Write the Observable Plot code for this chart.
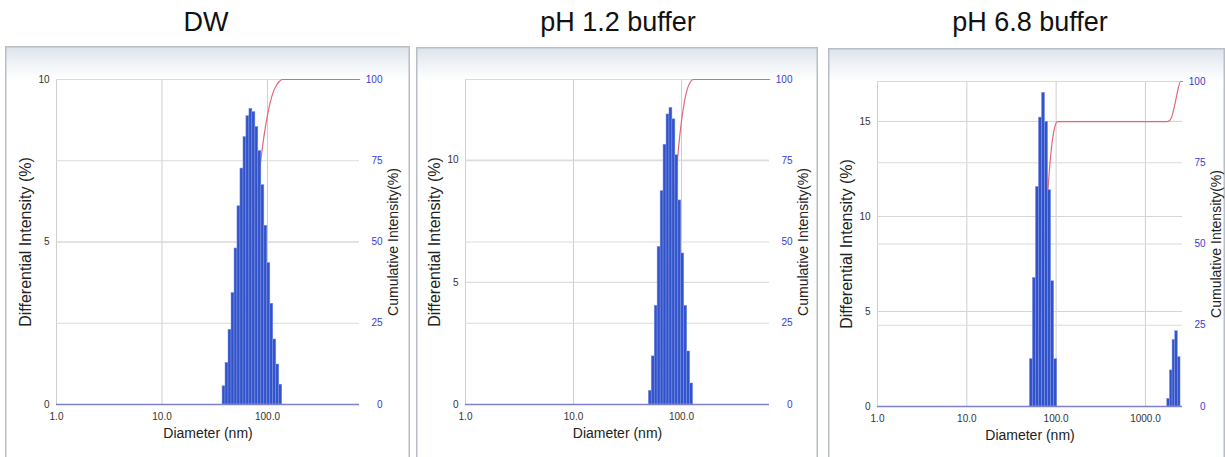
<!DOCTYPE html>
<html><head><meta charset="utf-8">
<script src="https://cdn.jsdelivr.net/npm/d3@7"></script>
<script src="https://cdn.jsdelivr.net/npm/@observablehq/plot@0.6"></script>
<style>
body{margin:0;background:#fff;font-family:Arial,"Liberation Sans",sans-serif;}
#root{position:relative;width:1225px;height:457px;overflow:hidden;background:#fff;}
.title{position:absolute;top:7px;width:300px;font-size:27px;color:#111;text-align:center;white-space:nowrap;}
.frame{position:absolute;box-sizing:border-box;background:linear-gradient(#dce3eb 0px,#eef2f6 16px,#fff 34px);box-shadow:inset 0 0 0 1.5px #b9bec6;overflow:hidden;}
.frame svg{position:absolute;left:0;top:0;}
</style></head><body><div id="root"></div>
<script>
// ---- titles ----
const titles = ["DW", "pH 1.2 buffer", "pH 6.8 buffer"];

// ---- DW: bin edges (nm) and differential intensity (%) ----
const dwEdges = [37.5, 40.0, 42.7, 45.6, 48.7, 51.9, 55.4, 59.2, 63.1, 67.4, 71.9,
                 76.8, 81.9, 87.5, 93.4, 99.7, 106.4, 113.5, 121.2, 129.4, 138.0];
const dwValues = [0.56, 1.28, 2.3, 3.43, 4.8, 6.1, 7.26, 8.23, 8.87, 9.1,
                  9.0, 8.54, 7.8, 6.75, 5.5, 4.35, 3.1, 2.0, 1.23, 0.61];

// ---- pH 1.2 buffer ----
const ph12Edges = [49.8, 53.0, 56.5, 60.1, 64.1, 68.2, 72.7, 77.4, 82.4, 87.8,
                   93.5, 99.6, 106.1, 113.0, 120.4, 128.2];
const ph12Values = [0.56, 1.97, 4.04, 6.45, 8.73, 10.63, 11.87, 12.14, 11.67, 10.2,
                    8.35, 6.18, 4.04, 2.17, 0.86];

// ---- pH 6.8 buffer: two populations ----
const ph68EdgesA = [50.8, 54.9, 59.4, 64.2, 69.5, 75.2, 81.3, 87.9, 95.1, 102.9];
const ph68ValuesA = [2.49, 6.76, 11.55, 15.2, 16.5, 14.98, 11.38, 6.59, 2.49];
const ph68EdgesB = [1754, 1879, 2012, 2154, 2308, 2472];
const ph68ValuesB = [0.4, 1.9, 3.5, 3.96, 2.6];

// ---- axis ticks ----
const xTicksA = [1, 10, 100];
const xTicksB = [1, 10, 100, 1000];
const dwYTicks = [0, 5, 10];
const ph12YTicks = [0, 5, 10];
const ph68YTicks = [0, 5, 10, 15];
const cumTicks = [0, 25, 50, 75, 100];

const xLabel = "Diameter (nm)";
const yLabel = "Differential Intensity (%)";
const y2Label = "Cumulative Intensity(%)";

const panels = [
  {title: titles[0], tx: 206, left: 5, top: 46, w: 405, h: 411, mL: 51, mR: 51, mT: 33, mB: 53,
   xMax: 745, yMax: 10, xTicks: xTicksA, yTicks: dwYTicks,
   groups: [{edges: dwEdges, values: dwValues}]},
  {title: titles[1], tx: 618, left: 416, top: 47, w: 402, h: 410, mL: 49, mR: 49, mT: 32, mB: 53,
   xMax: 653, yMax: 13.3, xTicks: xTicksA, yTicks: ph12YTicks,
   groups: [{edges: ph12Edges, values: ph12Values}]},
  {title: titles[2], tx: 1030, left: 828, top: 48, w: 397, h: 409, mL: 49, mR: 43, mT: 33, mB: 51,
   xMax: 2600, yMax: 17.1, xTicks: xTicksB, yTicks: ph68YTicks,
   groups: [{edges: ph68EdgesA, values: ph68ValuesA}, {edges: ph68EdgesB, values: ph68ValuesB}]}
];

const root = document.getElementById("root");

for (const p of panels) {
  const t = document.createElement("div");
  t.className = "title";
  t.style.left = (p.tx - 150) + "px";
  t.textContent = p.title;
  root.appendChild(t);

  const f = document.createElement("div");
  f.className = "frame";
  Object.assign(f.style, {left: p.left + "px", top: p.top + "px", width: p.w + "px", height: (p.h + 6) + "px"});
  root.appendChild(f);

  // bars
  const bars = [];
  for (const g of p.groups) g.values.forEach((v, i) => bars.push({x1: g.edges[i], x2: g.edges[i + 1], y: v}));
  // cumulative curve (running sum of the bars, normalised to 100)
  const total = d3.sum(bars, d => d.y);
  const cum = [{x: 1, c: 0}];
  let run = 0;
  for (const g of p.groups) {
    cum.push({x: g.edges[0], c: run / total * 100});
    g.values.forEach((v, i) => { run += v; cum.push({x: g.edges[i + 1], c: run / total * 100}); });
  }
  cum.push({x: p.xMax, c: 100});
  const k = p.yMax / 100;
  const cumPos = cumTicks.map(v => v * k);

  const chart = Plot.plot({
    width: p.w, height: p.h,
    marginLeft: p.mL, marginRight: p.mR, marginTop: p.mT, marginBottom: p.mB,
    style: {fontFamily: "Arial, 'Liberation Sans', sans-serif", fontSize: "10px", background: "transparent", overflow: "visible", color: "#333"},
    x: {type: "log", domain: [1, p.xMax]},
    y: {domain: [0, p.yMax]},
    marks: [
      Plot.gridX(p.xTicks, {stroke: "#cfcfcf", strokeOpacity: 1}),
      Plot.gridY(p.yTicks, {stroke: "#d4d4d4", strokeOpacity: 1}),
      Plot.gridY(cumPos, {stroke: "#dadada", strokeOpacity: 1}),
      Plot.line(cum, {x: "x", y: d => d.c * k, stroke: "#e0687a", strokeWidth: 1.2, curve: "monotone-x"}),
      Plot.rectY(bars, {x1: "x1", x2: "x2", y: "y", fill: "#3152c9", stroke: "#8098e8", strokeWidth: 0.5}),
      Plot.ruleY([0], {stroke: "#7d80cc", strokeWidth: 1.5}),
      Plot.axisX(p.xTicks, {tickSize: 0, tickPadding: 8, tickFormat: d3.format(".1f"), fontSize: 10, fill: "#333", label: null}),
      Plot.axisY(p.yTicks, {anchor: "left", tickSize: 0, tickPadding: 7, fontSize: 10, fill: "#333", label: null}),
      Plot.axisY(cumPos, {anchor: "right", tickSize: 0, tickPadding: 23, textAnchor: "end",
        tickFormat: d => String(Math.round(d / k)), fontSize: 10, fill: "#3a3ad8", label: null}),
      Plot.text([xLabel], {frameAnchor: "bottom", dy: 33, fontSize: 14, fill: "#222"}),
      Plot.text([yLabel], {frameAnchor: "left", dx: -31, rotate: -90, textAnchor: "middle", lineAnchor: "middle", fontSize: 16, fill: "#222"}),
      Plot.text([y2Label], {frameAnchor: "right", dx: 34, rotate: -90, textAnchor: "middle", lineAnchor: "middle", fontSize: 14, fill: "#222"})
    ]
  });
  f.appendChild(chart);
}
</script>
</body></html>
